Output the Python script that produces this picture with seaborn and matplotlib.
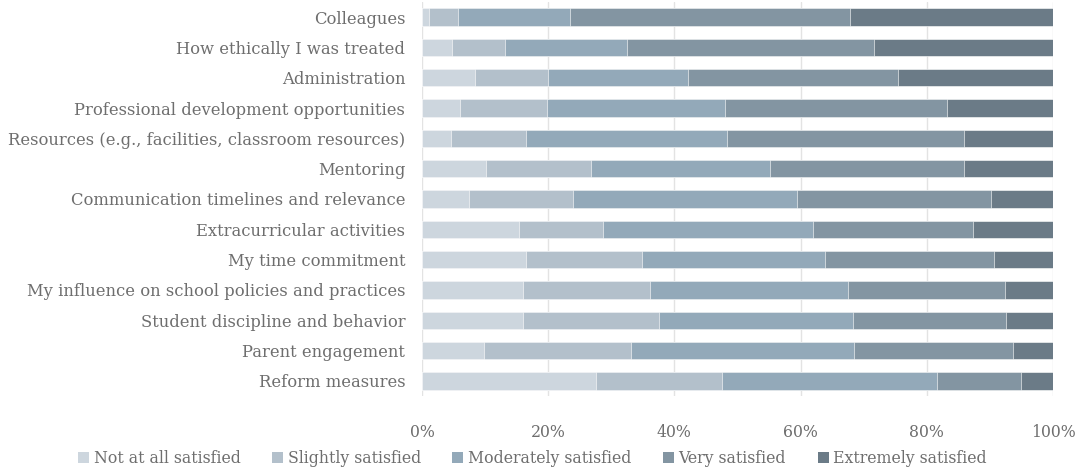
import matplotlib
matplotlib.use("Agg")
import matplotlib.pyplot as plt
import seaborn as sns
import numpy as np
import pandas as pd
from matplotlib.patches import Patch

categories = [
    "Colleagues",
    "How ethically I was treated",
    "Administration",
    "Professional development opportunities",
    "Resources (e.g., facilities, classroom resources)",
    "Mentoring",
    "Communication timelines and relevance",
    "Extracurricular activities",
    "My time commitment",
    "My influence on school policies and practices",
    "Student discipline and behavior",
    "Parent engagement",
    "Reform measures",
]
levels = ["Not at all satisfied", "Slightly satisfied", "Moderately satisfied",
          "Very satisfied", "Extremely satisfied"]

not_at_all = [1.1, 4.8, 8.4, 6.0, 4.6, 10.1, 7.4, 15.4, 16.4, 16.0, 16.0, 9.8, 27.5]
slightly = [4.6, 8.4, 11.5, 13.8, 11.9, 16.7, 16.6, 13.3, 18.5, 20.2, 21.5, 23.3, 20.1]
moderately = [17.8, 19.3, 22.2, 28.2, 31.9, 28.4, 35.4, 33.2, 28.9, 31.3, 30.8, 35.4, 34.0]
very = [44.4, 39.2, 33.3, 35.2, 37.5, 30.7, 30.8, 25.4, 26.8, 24.9, 24.2, 25.2, 13.3]
extremely = [32.1, 28.3, 24.6, 16.8, 14.1, 14.1, 9.8, 12.7, 9.4, 7.6, 7.5, 6.3, 5.1]

colors = ["#cdd6de", "#b3c0cb", "#93a9b9", "#8395a2", "#6b7b87"]

series = [not_at_all, slightly, moderately, very, extremely]
arr = np.array(series, dtype=float)
arr = arr / arr.sum(axis=0) * 100
cum = np.cumsum(arr, axis=0)

sns.set_theme(style="white")
plt.rcParams['font.family'] = ['DejaVu Serif', 'Liberation Serif']

fig = plt.figure(figsize=(10.78, 4.71), dpi=100)
ax = fig.add_axes([0.3915, 0.159, 0.5853, 0.837])

for i in range(len(levels) - 1, -1, -1):
    df = pd.DataFrame({"cat": categories, "val": cum[i]})
    sns.barplot(data=df, x="val", y="cat", order=categories, color=colors[i],
                saturation=1, width=0.58, edgecolor="white", linewidth=0.4, ax=ax)

ax.set_xlim(0, 100)
ax.set_ylim(len(categories) - 0.5, -0.5)
ax.set_xticks([0, 20, 40, 60, 80, 100])
ax.set_xticklabels(["0%", "20%", "40%", "60%", "80%", "100%"])
ax.xaxis.grid(True, color="#e3e3e3", linewidth=1)
ax.set_axisbelow(True)
for s in ax.spines.values():
    s.set_visible(False)
ax.set_xlabel("")
ax.set_ylabel("")
ax.tick_params(axis="both", length=0, colors="#6e6e6e", labelsize=11.8)
ax.tick_params(axis="x", pad=20, labelsize=11.3)
ax.tick_params(axis="y", pad=12)

handles = [Patch(facecolor=c, edgecolor="none") for c in colors]
fig.legend(handles, levels, loc="center", bbox_to_anchor=(0.494, 0.027), ncol=5,
           frameon=False, fontsize=11.3, handlelength=0.7, handleheight=0.7,
           handletextpad=0.3, columnspacing=2.0, labelcolor="#6e6e6e")

fig.savefig("out.png", dpi=100)
